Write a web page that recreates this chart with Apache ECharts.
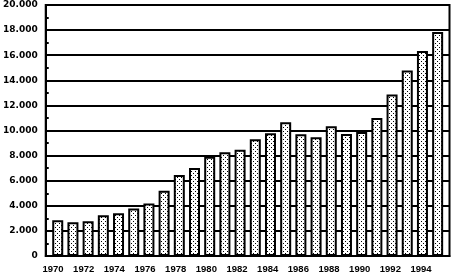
<!DOCTYPE html>
<html>
<head>
<meta charset="utf-8">
<script src="https://cdn.jsdelivr.net/npm/echarts@6/dist/echarts.min.js"></script>
<style>
html,body{margin:0;padding:0;background:#fff;}
#chart{width:452px;height:274px;}
</style>
</head>
<body>
<div id="chart"></div>
<script>
const years = [1970,1971,1972,1973,1974,1975,1976,1977,1978,1979,1980,1981,1982,1983,1984,1985,1986,1987,1988,1989,1990,1991,1992,1993,1994,1995];
const values = [2850,2690,2770,3240,3400,3790,4190,5200,6460,7010,7900,8270,8460,9300,9790,10660,9700,9460,10330,9720,9880,10990,12860,14780,16340,17840];
const yearLabels = [1970,1972,1974,1976,1978,1980,1982,1984,1986,1988,1990,1992,1994];
const yTicks = [0,2000,4000,6000,8000,10000,12000,14000,16000,18000,20000];

function makePattern(){
  const c = document.createElement('canvas');
  c.width = 4; c.height = 4;
  const ctx = c.getContext('2d');
  ctx.fillStyle = '#fff';
  ctx.fillRect(0,0,4,4);
  ctx.fillStyle = '#000';
  ctx.fillRect(1,1,1,1);
  ctx.fillRect(3,3,1,1);
  return c;
}

const chart = echarts.init(document.getElementById('chart'), null, {renderer:'canvas'});
chart.setOption({
  animation:false,
  backgroundColor:'#fff',
  grid:{left:44,right:2.5,top:5,bottom:16,show:true,borderColor:'#000',borderWidth:2},
  xAxis:[{
    type:'value', min:1969.21, max:1995.78,
    axisLine:{show:true,lineStyle:{color:'#000',width:2}},
    axisTick:{show:false}, axisLabel:{show:false}, splitLine:{show:false}
  },{
    type:'value', min:1969.526, max:1995.857, position:'bottom',
    axisLine:{show:false}, axisTick:{show:false}, splitLine:{show:false},
    axisLabel:{
      customValues: yearLabels,
      formatter:function(v){return String(v);},
      fontFamily:'Liberation Sans', fontWeight:'bold', fontSize:9.5, color:'#000', margin:8
    }
  }],
  yAxis:{
    type:'value', min:yTicks[0], max:yTicks[yTicks.length-1], interval:2000,
    axisLine:{show:true,lineStyle:{color:'#000',width:2}},
    axisTick:{show:true,inside:true,length:3,lineStyle:{color:'#000',width:2}},
    minorTick:{show:true,splitNumber:2,length:3,lineStyle:{color:'#000',width:2}},
    splitLine:{show:true,lineStyle:{color:'#000',width:2}},
    axisLabel:{
      formatter:function(v){return v===0?'0':(v/1000)+'.000';},
      fontFamily:'DejaVu Sans', fontWeight:'bold', fontSize:9, color:'#000', margin:8
    }
  },
  series:[{
    type:'bar', xAxisIndex:0,
    data: years.map(function(y,i){return [y, values[i]];}),
    barWidth:11,
    itemStyle:{color:{image:makePattern(),repeat:'repeat'},borderColor:'#000',borderWidth:2}
  }]
});
</script>
</body>
</html>
